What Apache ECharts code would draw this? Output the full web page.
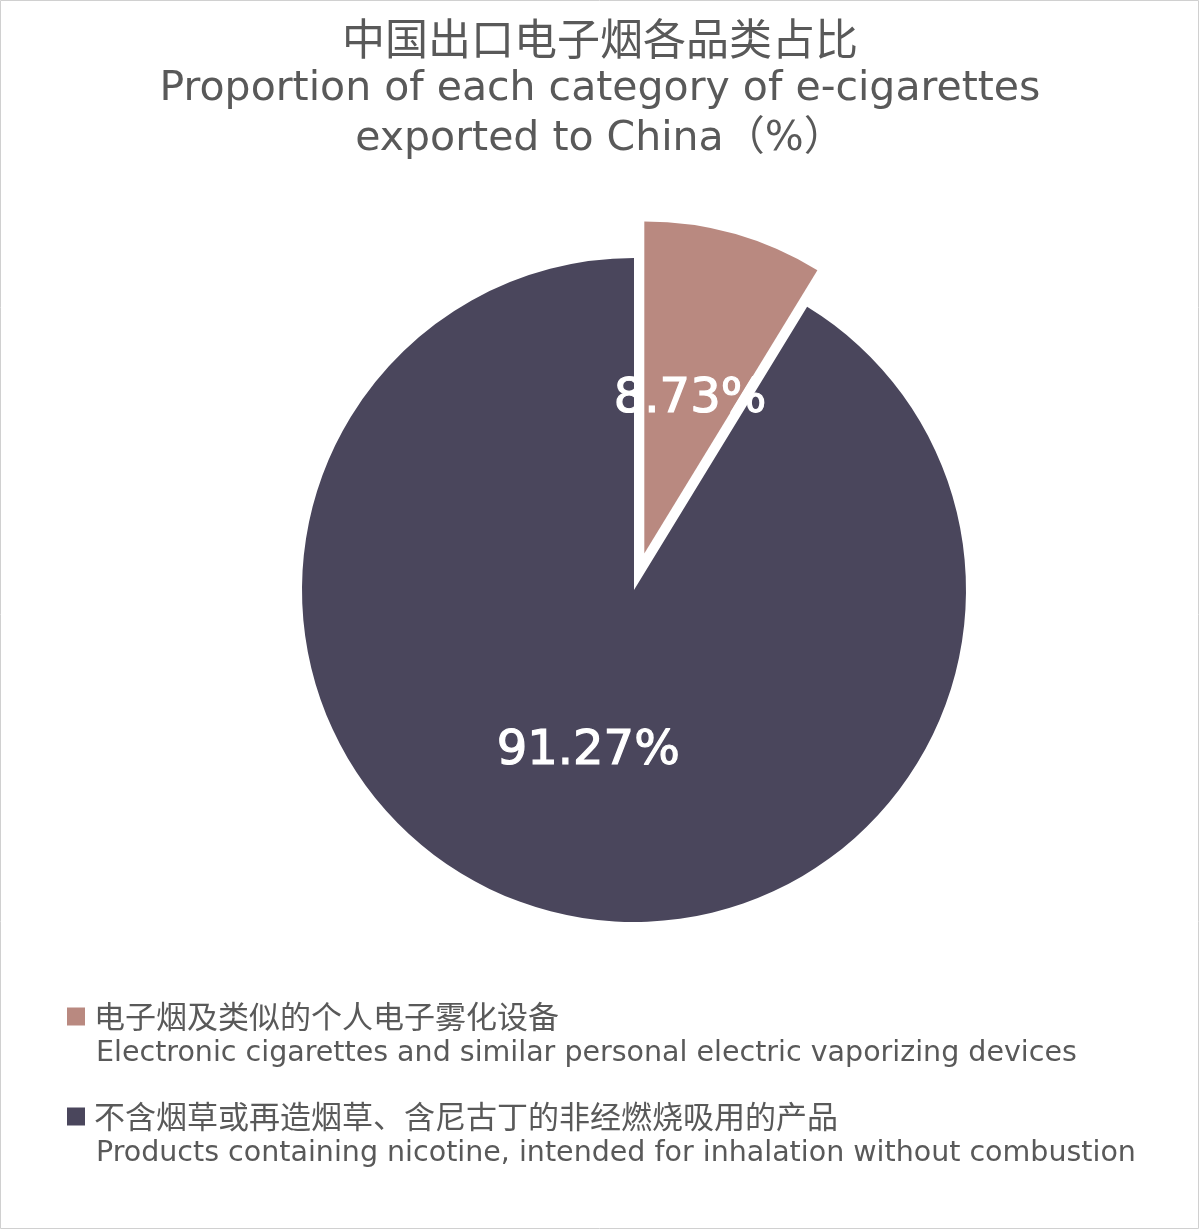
<!DOCTYPE html>
<html><head><meta charset="utf-8">
<script src="https://cdn.jsdelivr.net/npm/echarts@6/dist/echarts.min.js"></script>
<style>html,body{margin:0;padding:0;background:#fff}#c{width:1200px;height:1230px}</style>
</head><body><div id="c"></div>
<script>
const titleCN = '中国出口电子烟各品类占比';
const titleEN = ['Proportion of each category of e-cigarettes', 'exported to China（%）'];
const categoriesCN = ['电子烟及类似的个人电子雾化设备', '不含烟草或再造烟草、含尼古丁的非经燃烧吸用的产品'];
const categoriesEN = ['Electronic cigarettes and similar personal electric vaporizing devices', 'Products containing nicotine, intended for inhalation without combustion'];
const shares = [8.73, 91.27];
const colors = ['#b98980', '#4a465c'];

const latin = '"DejaVu Sans", "Noto Sans CJK SC", sans-serif';
const cjk = '"Noto Sans CJK SC", "DejaVu Sans", sans-serif';
const chart = echarts.init(document.getElementById('c'));
const data = shares.map((v, i) => ({
  name: categoriesCN[i], value: v, selected: i === 0,
  itemStyle: { color: colors[i] }
}));
const enByCn = {};
categoriesCN.forEach((n, i) => enByCn[n] = categoriesEN[i]);

chart.setOption({
  backgroundColor: '#fff',
  title: {
    text: '{cn|' + titleCN + '}\n' + titleEN.map(t => '{en|' + t + '}').join('\n'),
    left: 'center', top: 9,
    textStyle: {
      fontFamily: latin, fontSize: 41, fontWeight: 'normal', color: '#595959', lineHeight: 50,
      rich: {
        cn: { fontFamily: cjk, fontSize: 43, color: '#595959', lineHeight: 50 },
        en: { fontFamily: latin, fontSize: 41, color: '#595959', lineHeight: 50 }
      }
    }
  },
  legend: {
    orient: 'vertical', left: 62, top: 956, itemGap: -11,
    icon: 'rect', itemWidth: 18, itemHeight: 18,
    selectedMode: false,
    formatter: n => '\n{a|' + n + '}\n{b|' + enByCn[n] + '}',
    textStyle: {
      fontFamily: cjk, fontSize: 31, color: '#595959', lineHeight: 37,
      rich: {
        a: { fontFamily: cjk, fontSize: 31, color: '#595959', lineHeight: 37, padding: [0, 0, 0, 4] },
        b: { fontFamily: latin, fontSize: 28.5, color: '#595959', lineHeight: 37, padding: [0, 0, 0, 6] }
      }
    }
  },
  graphic: [{
    type: 'rect', shape: { x: 0.5, y: 0.5, width: 1198, height: 1228 },
    style: { fill: 'none', stroke: '#d0d0d0', lineWidth: 1 }, silent: true
  }],
  series: [{
    type: 'pie', center: [634, 590], radius: 332,
    startAngle: 90, clockwise: true, selectedMode: 'single', selectedOffset: 38,
    avoidLabelOverlap: false,
    label: {
      show: true, position: 'inside', formatter: '{c}%',
      color: '#fff', fontFamily: latin, fontSize: 48, fontWeight: 'normal',
      textBorderColor: '#fff', textBorderWidth: 1.2
    },
    labelLayout: p => (p.dataIndex === 0 ? { dy: 9 } : { dy: -1 }),
    labelLine: { show: false },
    emphasis: { disabled: true },
    itemStyle: { borderWidth: 0 },
    data: data
  }]
});
</script></body></html>
